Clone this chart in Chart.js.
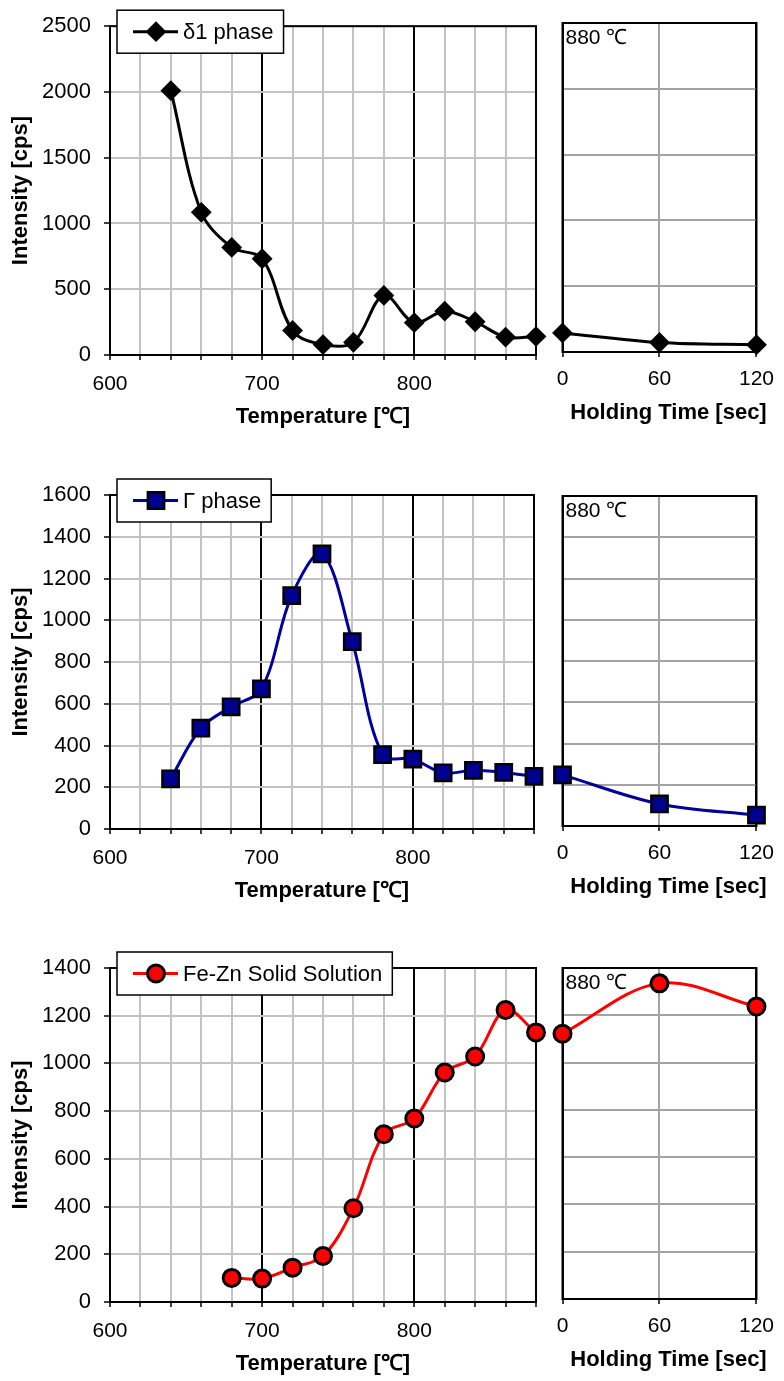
<!DOCTYPE html>
<html>
<head>
<meta charset="utf-8">
<script src="https://cdn.jsdelivr.net/npm/chart.js@4.4.1/dist/chart.umd.min.js"></script>
<style>
  body { margin: 0; background: #fff; }
  #page { position: relative; width: 784px; height: 1381px; overflow: hidden; background: #fff; }
  #page canvas { position: absolute; }
</style>
</head>
<body>
<div id="page"></div>
<script>
// Heating run (temperature) and isothermal hold at 880 °C
const heatTemps = [640, 660, 680, 700, 720, 740, 760, 780, 800, 820, 840, 860, 880];
const solidTemps = [680, 700, 720, 740, 760, 780, 800, 820, 840, 860, 880];
const holdTimes = [0, 60, 120];

const delta1Heat = [2010, 1085, 818, 732, 186, 79, 96, 453, 246, 333, 253, 136, 141];
const delta1Hold = [145, 72, 55];
const gammaHeat = [240, 483, 585, 671, 1118, 1318, 898, 356, 335, 269, 281, 271, 252];
const gammaHold = [248, 107, 53];
const solidHeat = [101, 98, 144, 193, 393, 703, 769, 962, 1029, 1224, 1130];
const solidHold = [1122, 1335, 1237];

const tempLabels = [600, 700, 800];
const holdLabels = [0, 60, 120];
const yMaxes = [2500, 1600, 1400];
const ySteps = [500, 200, 200];

const FONT = '"Liberation Sans", Arial, sans-serif';
const GRID_HEAT = '#c3c3c3';
const GRID_HOLD = '#a3a3a3';

Chart.defaults.font.family = FONT;
Chart.defaults.font.size = 21;
Chart.defaults.color = '#000';

const page = document.getElementById('page');

const panels = [
  { name: 'δ1 phase', heatX: heatTemps, heat: delta1Heat, hold: delta1Hold,
    style: { line: '#000000', fill: '#000000', point: 'rectRot', radius: 9, border: 2 } },
  { name: 'Γ phase', heatX: heatTemps, heat: gammaHeat, hold: gammaHold,
    style: { line: '#00009c', fill: '#000090', point: 'rect', radius: 11.5, border: 2.5 } },
  { name: 'Fe-Zn Solid Solution', heatX: solidTemps, heat: solidHeat, hold: solidHold,
    style: { line: '#ff0000', fill: '#ff0000', point: 'circle', radius: 8.5, border: 3 } }
];

// canvas placement of each panel
const layout = [
  { top: 0, height: 435, heatPad: 22, holdPad: 23 },
  { top: 465, height: 444, heatPad: 30, holdPad: 31 },
  { top: 940, height: 442, heatPad: 28, holdPad: 28 }
];

function addCanvas(left, top, width, height) {
  const c = document.createElement('canvas');
  c.width = width;
  c.height = height;
  c.style.left = left + 'px';
  c.style.top = top + 'px';
  c.style.width = width + 'px';
  c.style.height = height + 'px';
  page.appendChild(c);
  return c;
}

function drawMarker(ctx, st, x, y) {
  const r = st.radius;
  ctx.beginPath();
  if (st.point === 'rectRot') {
    ctx.moveTo(x - r, y);
    ctx.lineTo(x, y - r);
    ctx.lineTo(x + r, y);
    ctx.lineTo(x, y + r);
    ctx.closePath();
  } else if (st.point === 'rect') {
    const h = r * Math.SQRT1_2;
    ctx.rect(x - h, y - h, 2 * h, 2 * h);
  } else {
    ctx.arc(x, y, r, 0, Math.PI * 2);
  }
  ctx.fillStyle = st.fill;
  ctx.fill();
  ctx.lineWidth = st.border;
  ctx.strokeStyle = '#000';
  ctx.stroke();
}

// plot frame, axis titles, legend box and the 880 ℃ note
function decor(spec) {
  return {
    id: 'decor',
    beforeDatasetsDraw(chart) {
      const { ctx, chartArea: a } = chart;
      ctx.save();
      ctx.strokeStyle = '#000';
      ctx.lineWidth = 2;
      ctx.strokeRect(a.left, a.top, a.right - a.left, a.bottom - a.top);
      ctx.restore();
    },
    afterDraw(chart) {
      const { ctx, chartArea: a } = chart;
      ctx.save();
      ctx.fillStyle = '#000';
      ctx.textBaseline = 'middle';

      ctx.font = 'bold 22px ' + FONT;
      ctx.textAlign = 'center';
      ctx.fillText(spec.xTitle, (a.left + a.right) / 2 + spec.xShift, a.bottom + spec.xGap);

      if (spec.yTitle) {
        ctx.save();
        ctx.translate(21, (a.top + a.bottom) / 2);
        ctx.rotate(-Math.PI / 2);
        ctx.fillText(spec.yTitle, 0, 0);
        ctx.restore();
      }

      if (spec.note) {
        ctx.font = '21px ' + FONT;
        ctx.textAlign = 'left';
        ctx.fillText(spec.note, a.left + 3, a.top + 15);
      }

      if (spec.legend) {
        const st = spec.style;
        ctx.font = '22px ' + FONT;
        const bx = a.left + 7, by = a.top - 16, bh = 43;
        const bw = 66 + ctx.measureText(spec.legend).width + 10;
        ctx.fillStyle = '#fff';
        ctx.fillRect(bx, by, bw, bh);
        ctx.lineWidth = 1.5;
        ctx.strokeStyle = '#000';
        ctx.strokeRect(bx, by, bw, bh);
        const cy = by + bh / 2;
        ctx.strokeStyle = st.line;
        ctx.lineWidth = 3;
        ctx.beginPath();
        ctx.moveTo(bx + 16, cy);
        ctx.lineTo(bx + 61, cy);
        ctx.stroke();
        drawMarker(ctx, st, bx + 39, cy);
        ctx.fillStyle = '#000';
        ctx.textAlign = 'left';
        ctx.fillText(spec.legend, bx + 66, cy + 1);
      }
      ctx.restore();
    }
  };
}

function series(xs, ys, st) {
  return {
    data: xs.map((x, i) => ({ x: x, y: ys[i] })),
    borderColor: st.line,
    borderWidth: 3,
    backgroundColor: st.fill,
    pointStyle: st.point,
    pointRadius: st.radius,
    pointHoverRadius: st.radius,
    pointBackgroundColor: st.fill,
    pointBorderColor: '#000',
    pointBorderWidth: st.border,
    tension: 0.35,
    clip: false
  };
}

function heatChart(p, i) {
  const lay = layout[i];
  const canvas = addCanvas(0, lay.top, 548, lay.height);
  return new Chart(canvas, {
    type: 'line',
    data: { datasets: [series(p.heatX, p.heat, p.style)] },
    options: {
      responsive: false,
      animation: false,
      events: [],
      layout: { padding: { top: lay.heatPad, right: 12, bottom: 0, left: 0 } },
      plugins: { legend: { display: false }, tooltip: { enabled: false } },
      scales: {
        x: {
          type: 'linear', min: 600, max: 880,
          ticks: {
            stepSize: 20, autoSkip: false, maxRotation: 0, padding: 12,
            callback: v => tempLabels.includes(v) ? String(v) : ''
          },
          grid: {
            color: c => (c.tick && tempLabels.includes(c.tick.value)) ? '#000' : GRID_HEAT,
            lineWidth: 2, tickLength: 5, tickColor: '#000', tickWidth: 1.5
          },
          border: { color: '#000', width: 2 },
          afterFit: s => { s.height = 80; }
        },
        y: {
          min: 0, max: yMaxes[i],
          ticks: { stepSize: ySteps[i], padding: 13, font: { size: 22 }, callback: v => String(v) },
          grid: {
            color: c => (c.tick && c.tick.value === 0) ? '#000' : GRID_HEAT,
            lineWidth: 2, tickLength: 6, tickColor: '#000', tickWidth: 1.5
          },
          border: { color: '#000', width: 2 },
          afterFit: s => { s.width = 110; }
        }
      }
    },
    plugins: [decor({
      xTitle: 'Temperature [℃]', xShift: 0, xGap: 62,
      yTitle: 'Intensity [cps]', legend: p.name, style: p.style
    })]
  });
}

function holdChart(p, i) {
  const lay = layout[i];
  const canvas = addCanvas(545, lay.top, 239, lay.height);
  return new Chart(canvas, {
    type: 'line',
    data: { datasets: [series(holdTimes, p.hold, p.style)] },
    options: {
      responsive: false,
      animation: false,
      events: [],
      layout: { padding: { top: lay.holdPad, right: 22, bottom: 0, left: 17.5 } },
      plugins: { legend: { display: false }, tooltip: { enabled: false } },
      scales: {
        x: {
          type: 'linear', min: 0, max: 120,
          ticks: {
            stepSize: 60, autoSkip: false, maxRotation: 0, padding: 10,
            callback: v => holdLabels.includes(v) ? String(v) : ''
          },
          grid: {
            color: c => (c.tick && (c.tick.value === 0 || c.tick.value === 120)) ? '#000' : GRID_HOLD,
            lineWidth: 2, tickLength: 5, tickColor: '#000', tickWidth: 1.5
          },
          border: { color: '#000', width: 2 },
          afterFit: s => { s.height = 83; }
        },
        y: {
          min: 0, max: yMaxes[i],
          ticks: { stepSize: ySteps[i], display: false },
          grid: { color: GRID_HOLD, lineWidth: 2, drawTicks: false },
          border: { color: '#000', width: 2 },
          afterFit: s => { s.width = 0; }
        }
      }
    },
    plugins: [decor({
      xTitle: 'Holding Time [sec]', xShift: 9, xGap: 61,
      note: '880 ℃', style: p.style
    })]
  });
}

panels.forEach((p, i) => {
  heatChart(p, i);
  holdChart(p, i);
});
</script>
</body>
</html>
